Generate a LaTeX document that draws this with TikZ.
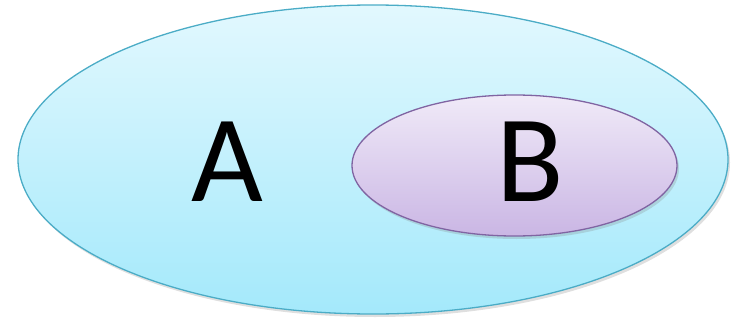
\documentclass[tikz,border=0pt]{standalone}
\usepackage{fontspec}
\setmainfont{Carlito}
\usetikzlibrary{shapes.geometric, shadows}
\definecolor{atop}{RGB}{226,248,254}
\definecolor{abot}{RGB}{164,233,251}
\definecolor{aline}{RGB}{75,172,198}
\definecolor{btop}{RGB}{240,234,248}
\definecolor{bbot}{RGB}{202,182,228}
\definecolor{bline}{RGB}{128,100,162}

\begin{document}
\begin{tikzpicture}[
  x=1pt, y=1pt,
  set/.style={ellipse, draw, line width=1.3pt, inner sep=0pt,
              drop shadow={shadow xshift=2pt, shadow yshift=-3pt, opacity=0.25}},
  seta/.style={set, top color=atop, bottom color=abot, draw=aline,
               minimum width=710pt, minimum height=309pt},
  setb/.style={set, top color=btop, bottom color=bbot, draw=bline,
               minimum width=325pt, minimum height=141pt},
  lbl/.style={font=\fontsize{124}{124}\selectfont, inner sep=0pt},
]
\useasboundingbox (0,0) rectangle (741,322);
\node[seta] (A) at (373,162.5) {};
\node[setb] (B) at (514.5,156.5) {};
\node[lbl] (la) at (227,160) {A};
\node[lbl] (lb) at (530,160) {B};
\end{tikzpicture}
\end{document}
